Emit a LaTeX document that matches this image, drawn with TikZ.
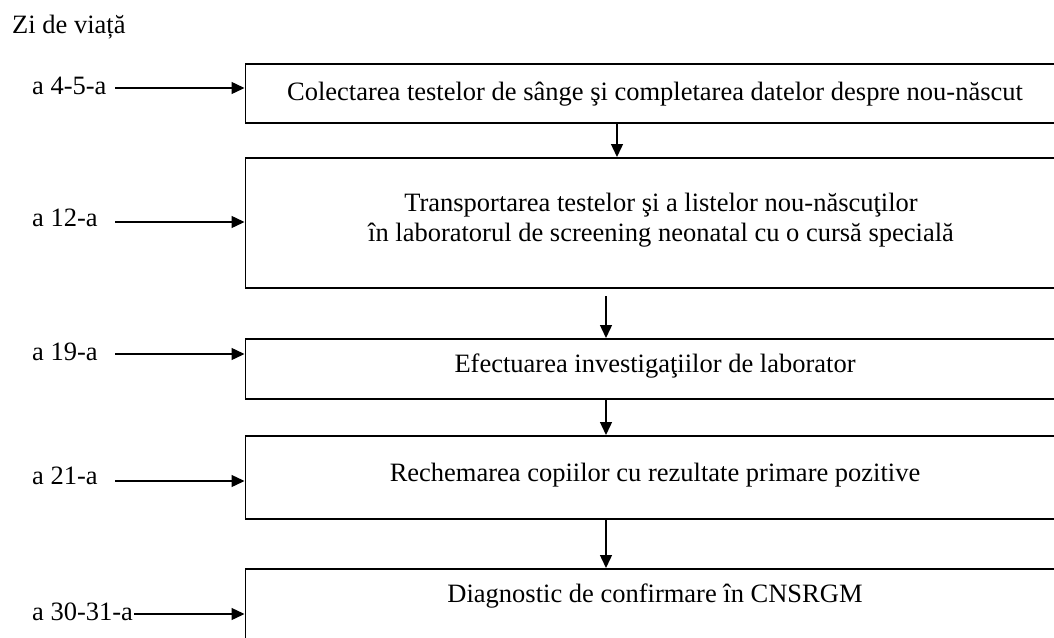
\documentclass[tikz,border=0pt]{standalone}
\usepackage{fontspec}
\setmainfont{Liberation Serif}
\usetikzlibrary{arrows.meta}
\begin{document}
\begin{tikzpicture}[x=1pt,y=-1pt,
  font=\fontsize{26.5}{30}\selectfont,
  stage/.style={draw, line width=1.6pt, minimum width=822pt, anchor=north west, inner sep=0pt},
  txt/.style={anchor=base, align=center, inner sep=0pt},
  lbl/.style={anchor=base west, inner sep=0pt},
  flow/.style={line width=1.4pt, -{Triangle[length=13pt,width=12pt]}}
]
\useasboundingbox (0,0) rectangle (1054,637);
\clip (0,0) rectangle (1054,637);

% heading
\node[lbl] (head) at (12,33) {Zi de viață};

% stage boxes
\node[stage, minimum height=59pt] (b1) at (244.5,63) {};
\node[stage, minimum height=130pt] (b2) at (244.5,157) {};
\node[stage, minimum height=60pt] (b3) at (244.5,338) {};
\node[stage, minimum height=83pt] (b4) at (244.5,435) {};
\node[stage, minimum height=83pt] (b5) at (244.5,568) {};

% stage texts (base anchor of the two-line text is its last line)
\node[txt] (t1) at (655,100) {Colectarea testelor de sânge şi completarea datelor despre nou-născut};
\node[txt] (t2) at (661,241) {Transportarea testelor şi a listelor nou-născuţilor\\în laboratorul de screening neonatal cu o cursă specială};
\node[txt] (t3) at (655,372) {Efectuarea investigaţiilor de laborator};
\node[txt] (t4) at (655,481) {Rechemarea copiilor cu rezultate primare pozitive};
\node[txt] (t5) at (655,602) {Diagnostic de confirmare în CNSRGM};

% day labels
\node[lbl] (d1) at (32,94) {a 4-5-a};
\node[lbl] (d2) at (32,226) {a 12-a};
\node[lbl] (d3) at (32,360) {a 19-a};
\node[lbl] (d4) at (32,484) {a 21-a};
\node[lbl] (d5) at (32,620) {a 30-31-a};

% arrow starts
\coordinate (s1) at (115,88);
\coordinate (s2) at (115,222);
\coordinate (s3) at (115,354);
\coordinate (s4) at (115,481);
\coordinate (s5) at (134,614);

\draw[flow] (s1) -- (s1 -| b1.west);
\draw[flow] (s2) -- (s2 -| b2.west);
\draw[flow] (s3) -- (s3 -| b3.west);
\draw[flow] (s4) -- (s4 -| b4.west);
\draw[flow] (s5) -- (s5 -| b5.west);

% vertical connectors between stages
\coordinate (v1) at (617,0);
\coordinate (v2) at (606,0);
\coordinate (u2) at (606,296);
\draw[flow] (v1 |- b1.south) -- (v1 |- b2.north);
\draw[flow] (u2) -- (v2 |- b3.north);
\draw[flow] (v2 |- b3.south) -- (v2 |- b4.north);
\draw[flow] (v2 |- b4.south) -- (v2 |- b5.north);
\end{tikzpicture}
\end{document}
